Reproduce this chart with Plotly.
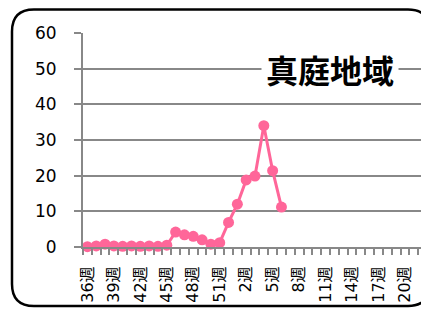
import plotly.graph_objects as go

# ---- data ----
week_labels = [f"{w}週" for w in list(range(36, 53)) + list(range(1, 23))]
values = [0.1, 0.3, 0.8, 0.3, 0.2, 0.3, 0.2, 0.3, 0.2, 0.5,
          4.2, 3.4, 3.0, 2.0, 0.8, 1.2, 6.9,
          12.0, 18.8, 19.9, 34.0, 21.4, 11.2]
values = values + [None] * (len(week_labels) - len(values))
y_ticks = [0, 10, 20, 30, 40, 50, 60]
title_text = "真庭地域"

# page body has an 8px margin, so the figure is shrunk / shifted by 8px
OFF = 8
W, H = 429 - OFF, 309 - OFF
L, T = 83 - OFF, 33 - OFF
R = W - (427 - OFF)
B = H - (247 - OFF)
pw, ph = W - L - R, H - T - B

x_idx = list(range(len(week_labels)))
pink = "#FF6699"
grid = "#888888"

fig = go.Figure()
fig.add_trace(go.Scatter(
    x=x_idx, y=values, mode="lines+markers",
    line=dict(color=pink, width=3),
    marker=dict(color=pink, size=11),
    cliponaxis=False, connectgaps=False, showlegend=False,
))


def px2paper(px, py):
    px, py = px - OFF, py - OFF
    return (px - L) / pw, (H - B - py) / ph


# rounded frame path in paper coordinates (reference pixel coords)
x0, y0, x1, y1, r = 12, 9.5, 430, 306, 22
pts = {
    "a": px2paper(x0 + r, y0), "b": px2paper(x1 - r, y0), "c": px2paper(x1, y0),
    "d": px2paper(x1, y0 + r), "e": px2paper(x1, y1 - r), "f": px2paper(x1, y1),
    "g": px2paper(x1 - r, y1), "h": px2paper(x0 + r, y1), "i": px2paper(x0, y1),
    "j": px2paper(x0, y1 - r), "k": px2paper(x0, y0 + r), "l": px2paper(x0, y0),
}
f = lambda p: f"{p[0]:.5f},{p[1]:.5f}"
path = (f"M{f(pts['a'])} L{f(pts['b'])} Q{f(pts['c'])} {f(pts['d'])} "
        f"L{f(pts['e'])} Q{f(pts['f'])} {f(pts['g'])} L{f(pts['h'])} "
        f"Q{f(pts['i'])} {f(pts['j'])} L{f(pts['k'])} Q{f(pts['l'])} {f(pts['a'])} Z")
fig.add_shape(type="path", path=path, xref="paper", yref="paper",
              line=dict(color="black", width=2.5), layer="above")

# plot-area right border
fig.add_shape(type="line", xref="paper", yref="paper", x0=1, x1=1, y0=0, y1=1,
              line=dict(color=grid, width=2), layer="below")

tx, _ = px2paper(330, 0)
fig.add_annotation(
    text=f"<b>{title_text}</b>", xref="paper", yref="y", x=tx, y=50,
    xanchor="center", yanchor="middle",
    showarrow=False, bgcolor="white", borderpad=4,
    font=dict(family="Noto Sans CJK JP", size=32, color="black"),
)

fig.update_layout(
    width=W, height=H, margin=dict(l=L, r=R, t=T, b=B, autoexpand=False),
    paper_bgcolor="white", plot_bgcolor="white",
    font=dict(family="DejaVu Sans, Noto Sans CJK JP", color="black"),
)
fig.update_xaxes(
    automargin=False,
    range=[-0.5, len(week_labels) - 0.5],
    tickmode="array", tickvals=x_idx[::3], ticktext=week_labels[::3],
    tickangle=-90, ticks="", ticklabelstandoff=11,
    tickfont=dict(size=16, family="DejaVu Sans, Noto Sans CJK JP"),
    showgrid=False, zeroline=False,
    showline=True, linecolor=grid, linewidth=2,
    minor=dict(ticks="outside", tick0=0.5, dtick=1, ticklen=6,
               tickcolor=grid, tickwidth=2, showgrid=False),
)
fig.update_yaxes(
    automargin=False,
    range=[0, 60], tickvals=y_ticks, ticks="outside", ticklen=7,
    tickcolor=grid, tickwidth=2, ticklabelstandoff=14,
    tickfont=dict(size=17, family="DejaVu Sans"),
    showgrid=True, gridcolor=grid, gridwidth=2, zeroline=False,
    showline=True, linecolor=grid, linewidth=2,
)

fig.write_html("out.html")
